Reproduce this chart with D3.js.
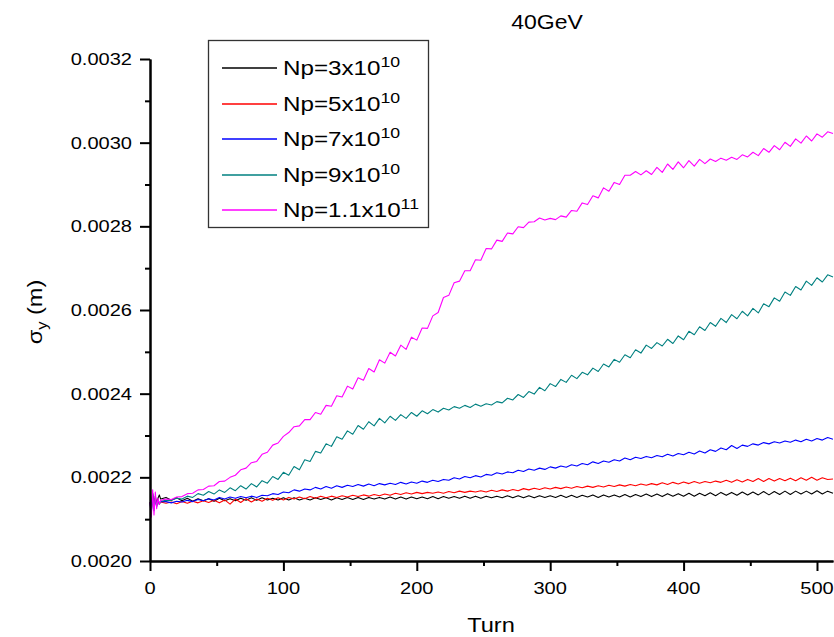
<!DOCTYPE html>
<html>
<head>
<meta charset="utf-8">
<script src="https://cdn.jsdelivr.net/npm/d3@7"></script>
<style>
  body { margin: 0; background: #fff; }
  svg { display: block; font-family: "Liberation Sans", Arial, sans-serif; }
</style>
</head>
<body>
<div id="chart"></div>
<script>
// sigma_y values are in micrometres, shown on the axis in metres
const turns = [0, 1, 2, 3, 4, 5, 6, 7, 8,
  12, 16, 20, 24, 28, 32, 36, 40, 44, 48,
  52, 56, 60, 64, 68, 72, 76, 80, 84, 88,
  92, 96, 100, 104, 108, 112, 116, 120, 124, 128,
  132, 136, 140, 144, 148, 152, 156, 160, 164, 168,
  172, 176, 180, 184, 188, 192, 196, 200, 204, 208,
  212, 216, 220, 224, 228, 232, 236, 240, 244, 248,
  252, 256, 260, 264, 268, 272, 276, 280, 284, 288,
  292, 296, 300, 304, 308, 312, 316, 320, 324, 328,
  332, 336, 340, 344, 348, 352, 356, 360, 364, 368,
  372, 376, 380, 384, 388, 392, 396, 400, 404, 408,
  412, 416, 420, 424, 428, 432, 436, 440, 444, 448,
  452, 456, 460, 464, 468, 472, 476, 480, 484, 488,
  492, 496, 500, 504, 508, 512];

const np3e10 = [2140, 2125, 2162, 2130, 2155, 2138, 2150, 2158, 2148,
  2152, 2145, 2151, 2144, 2150, 2143, 2149, 2144, 2149, 2143,
  2150, 2144, 2149, 2144, 2150, 2145, 2151, 2145, 2151, 2146,
  2150, 2146, 2151, 2146, 2151, 2146, 2150, 2146, 2151, 2147,
  2151, 2146, 2151, 2147, 2152, 2147, 2152, 2147, 2152, 2148,
  2152, 2148, 2153, 2148, 2153, 2148, 2153, 2149, 2153, 2149,
  2154, 2149, 2154, 2150, 2154, 2150, 2155, 2150, 2155, 2150,
  2155, 2151, 2155, 2151, 2156, 2151, 2156, 2151, 2156, 2151,
  2156, 2152, 2156, 2152, 2157, 2152, 2157, 2152, 2157, 2153,
  2158, 2152, 2158, 2153, 2158, 2153, 2159, 2153, 2159, 2154,
  2160, 2154, 2160, 2154, 2161, 2155, 2161, 2155, 2162, 2155,
  2162, 2156, 2163, 2156, 2164, 2157, 2164, 2157, 2165, 2158,
  2165, 2158, 2166, 2158, 2166, 2159, 2167, 2159, 2167, 2160,
  2167, 2160, 2168, 2160, 2167, 2162];

const np5e10 = [2140, 2120, 2155, 2128, 2150, 2135, 2146, 2137, 2141,
  2138, 2141, 2137, 2142, 2138, 2143, 2139, 2144, 2140, 2145,
  2139, 2146, 2136, 2148, 2140, 2149, 2141, 2148, 2143, 2150,
  2145, 2151, 2146, 2152, 2148, 2153, 2149, 2154, 2150, 2155,
  2151, 2155, 2152, 2156, 2153, 2157, 2154, 2158, 2155, 2159,
  2156, 2160, 2157, 2162, 2159, 2163, 2160, 2164, 2161, 2164,
  2162, 2165, 2162, 2166, 2163, 2167, 2164, 2167, 2165, 2168,
  2165, 2169, 2166, 2170, 2167, 2171, 2168, 2173, 2170, 2174,
  2171, 2175, 2172, 2176, 2173, 2177, 2174, 2178, 2175, 2179,
  2176, 2180, 2177, 2181, 2178, 2182, 2179, 2183, 2180, 2184,
  2181, 2185, 2182, 2187, 2183, 2188, 2184, 2189, 2185, 2190,
  2186, 2190, 2187, 2191, 2188, 2193, 2188, 2194, 2189, 2195,
  2190, 2197, 2190, 2197, 2191, 2197, 2192, 2198, 2192, 2199,
  2193, 2200, 2193, 2199, 2195, 2196];

const np7e10 = [2140, 2118, 2158, 2125, 2150, 2132, 2145, 2138, 2142,
  2142, 2139, 2143, 2141, 2145, 2142, 2147, 2144, 2149, 2146,
  2152, 2148, 2153, 2150, 2154, 2151, 2155, 2152, 2157, 2156,
  2161, 2159, 2165, 2163, 2170, 2167, 2172, 2170, 2176, 2172,
  2178, 2174, 2180, 2176, 2181, 2178, 2183, 2179, 2184, 2180,
  2185, 2182, 2186, 2183, 2188, 2184, 2189, 2186, 2191, 2188,
  2193, 2190, 2195, 2193, 2199, 2196, 2202, 2199, 2204, 2201,
  2207, 2205, 2211, 2208, 2213, 2211, 2217, 2214, 2220, 2217,
  2222, 2219, 2225, 2222, 2227, 2224, 2230, 2227, 2233, 2230,
  2237, 2233, 2239, 2236, 2242, 2239, 2246, 2242, 2248, 2245,
  2250, 2247, 2252, 2249, 2255, 2251, 2257, 2254, 2260, 2256,
  2263, 2258, 2266, 2262, 2270, 2266, 2276, 2269, 2277, 2274,
  2280, 2277, 2283, 2280, 2285, 2282, 2287, 2284, 2289, 2285,
  2291, 2287, 2293, 2289, 2295, 2291];

const np9e10 = [2135, 2115, 2160, 2120, 2150, 2130, 2145, 2135, 2143,
  2145, 2145, 2150, 2148, 2155, 2152, 2161, 2157, 2166, 2160,
  2170, 2164, 2175, 2168, 2180, 2172, 2185, 2177, 2192, 2186,
  2202, 2195, 2212, 2205, 2226, 2218, 2242, 2238, 2262, 2258,
  2280, 2274, 2297, 2291, 2311, 2303, 2324, 2315, 2333, 2323,
  2341, 2330, 2346, 2336, 2350, 2341, 2355, 2346, 2359, 2352,
  2362, 2356, 2365, 2361, 2369, 2365, 2372, 2367, 2375, 2370,
  2376, 2373, 2381, 2378, 2389, 2385, 2398, 2391, 2405, 2399,
  2415, 2407, 2424, 2417, 2434, 2427, 2444, 2436, 2451, 2445,
  2461, 2453, 2471, 2464, 2482, 2475, 2493, 2486, 2505, 2497,
  2516, 2508, 2522, 2514, 2530, 2520, 2538, 2529, 2549, 2541,
  2560, 2551, 2570, 2561, 2580, 2570, 2589, 2579, 2597, 2586,
  2604, 2593, 2615, 2608, 2629, 2621, 2643, 2635, 2656, 2648,
  2669, 2659, 2677, 2667, 2684, 2679];

const np11e10 = [2139, 2105, 2170, 2110, 2165, 2125, 2150, 2135, 2145,
  2148, 2147, 2153, 2154, 2161, 2162, 2170, 2171, 2179, 2180,
  2190, 2191, 2200, 2205, 2218, 2222, 2235, 2238, 2255, 2260,
  2277, 2282, 2298, 2307, 2321, 2323, 2338, 2338, 2355, 2351,
  2372, 2370, 2395, 2392, 2418, 2411, 2438, 2432, 2460, 2452,
  2481, 2473, 2499, 2490, 2516, 2506, 2535, 2528, 2557, 2556,
  2586, 2594, 2630, 2635, 2665, 2669, 2694, 2694, 2720, 2719,
  2747, 2746, 2767, 2764, 2784, 2782, 2799, 2797, 2810, 2811,
  2820, 2815, 2819, 2816, 2825, 2822, 2838, 2836, 2856, 2852,
  2873, 2868, 2892, 2884, 2905, 2900, 2922, 2922, 2931, 2923,
  2933, 2924, 2941, 2929, 2949, 2936, 2954, 2940, 2957, 2944,
  2960, 2950, 2961, 2955, 2963, 2958, 2965, 2960, 2971, 2966,
  2977, 2969, 2986, 2977, 2993, 2983, 3001, 2991, 3009, 2999,
  3016, 3004, 3021, 3013, 3026, 3022];

const seriesNames = ["Np=3x10", "Np=5x10", "Np=7x10", "Np=9x10", "Np=1.1x10"];
const seriesExp = ["10", "10", "10", "10", "11"];
const seriesColors = ["#000000", "#ff0000", "#0000ff", "#008080", "#ff00ff"];
const seriesValues = [np3e10, np5e10, np7e10, np9e10, np11e10];

const xMajor = [0, 100, 200, 300, 400, 500];
const xMinor = [50, 150, 250, 350, 450];
const yMajor = [2000, 2200, 2400, 2600, 2800, 3000, 3200];
const yMinor = [2100, 2300, 2500, 2700, 2900, 3100];

const width = 834, height = 637;
const stretch = 1.18;

const svg = d3.select("#chart").append("svg")
  .attr("width", width)
  .attr("height", height);

const x = d3.scaleLinear().domain([0, 512]).range([150, 833]);
const y = d3.scaleLinear().domain([2000, 3200]).range([561, 59]);

// text helper: the original fonts are a bit wider than Arial
function label(parent, px, py, txt, size, anchor, rot) {
  return parent.append("text")
    .attr("transform", `translate(${px},${py}) rotate(${rot || 0}) scale(${stretch},1)`)
    .attr("text-anchor", anchor || "start")
    .attr("font-size", size)
    .attr("fill", "#000")
    .text(txt);
}

// curves
const line = d3.line()
  .x((d, i) => x(turns[i]))
  .y(d => y(d));

svg.append("g").selectAll("path")
  .data(seriesValues)
  .enter()
  .append("path")
  .attr("d", d => line(d))
  .attr("fill", "none")
  .attr("stroke", (d, i) => seriesColors[i])
  .attr("stroke-width", 1.1)
  .attr("stroke-linejoin", "round");

// axes
function styleAxis(g) {
  g.selectAll("line").attr("stroke", "#000").attr("stroke-width", 2);
  g.selectAll(".domain").attr("stroke", "#000").attr("stroke-width", 2);
  g.selectAll("text").remove();
}

svg.append("g")
  .attr("transform", "translate(0,561)")
  .call(d3.axisBottom(x).tickValues(xMinor).tickSize(5).tickSizeOuter(0))
  .call(styleAxis);
svg.append("g")
  .attr("transform", "translate(0,561)")
  .call(d3.axisBottom(x).tickValues(xMajor).tickSize(10).tickSizeOuter(0))
  .call(styleAxis);
svg.append("g")
  .attr("transform", "translate(150,0)")
  .call(d3.axisLeft(y).tickValues(yMinor).tickSize(5).tickSizeOuter(0))
  .call(styleAxis);
svg.append("g")
  .attr("transform", "translate(150,0)")
  .call(d3.axisLeft(y).tickValues(yMajor).tickSize(10).tickSizeOuter(0))
  .call(styleAxis);

xMajor.forEach(t => label(svg, x(t), 594, String(t), 17, "middle"));
yMajor.forEach(v => label(svg, 132, y(v) + 6, (v / 1e6).toFixed(4), 17, "end"));

label(svg, 491, 632, "Turn", 20, "middle");
const yl = label(svg, 42, 312, "σ", 20, "middle", -90);
yl.append("tspan").attr("font-size", 14).attr("dy", 5).text("y");
yl.append("tspan").attr("dy", -5).text(" (m)");

label(svg, 547, 29, "40GeV", 19.5, "middle");

// legend
const legend = svg.append("g");
legend.append("rect")
  .attr("x", 208.5).attr("y", 40.5)
  .attr("width", 220).attr("height", 187)
  .attr("fill", "#fff")
  .attr("stroke", "#333")
  .attr("stroke-width", 1.3);

seriesNames.forEach((name, i) => {
  const ly = Math.round(68 + i * 35.5);
  legend.append("path")
    .attr("d", `M222,${ly}H277`)
    .attr("fill", "none")
    .style("stroke", seriesColors[i])
    .attr("stroke-width", 1.6);
  const t = label(legend, 283, ly + 7, name, 20.5, "start");
  t.append("tspan").attr("font-size", 15).attr("dy", -8).text(seriesExp[i]);
});
</script>
</body>
</html>
